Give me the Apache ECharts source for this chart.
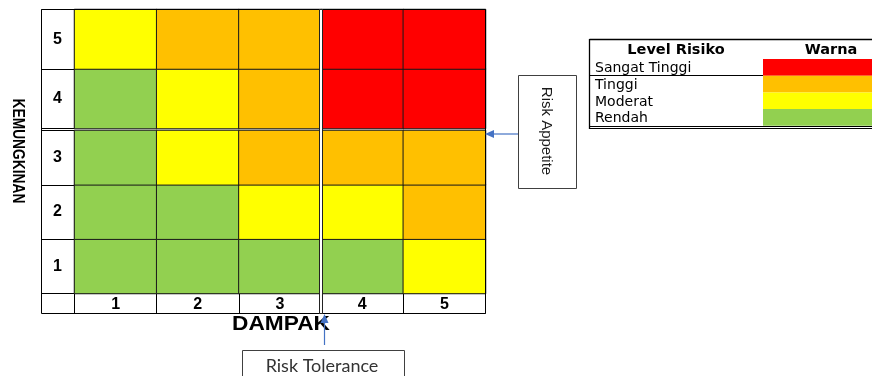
<!DOCTYPE html>
<html>
<head>
<meta charset="utf-8">
<title>Matriks Risiko</title>
<script src="https://cdn.jsdelivr.net/npm/echarts@6/dist/echarts.min.js"></script>
<style>
  html, body { margin: 0; padding: 0; background: #fff; }
  #chart { width: 872px; height: 376px; }
</style>
</head>
<body>
<div id="chart"></div>
<script>
// Axis categories
const impactLabels = ['1', '2', '3', '4', '5'];       // DAMPAK
const likelihoodLabels = ['1', '2', '3', '4', '5'];   // KEMUNGKINAN

// Risk level per cell: rows = likelihood 1..5, columns = impact 1..5
// 0 = Rendah, 1 = Moderat, 2 = Tinggi, 3 = Sangat Tinggi
const riskLevel = [
  [0, 0, 0, 0, 1],
  [0, 0, 1, 1, 2],
  [0, 1, 2, 2, 2],
  [0, 1, 2, 3, 3],
  [1, 2, 2, 3, 3]
];

const levelNames = ['Rendah', 'Moderat', 'Tinggi', 'Sangat Tinggi'];
const levelColors = ['#92D050', '#FFFF00', '#FFC000', '#FF0000'];

// Thresholds: highest likelihood / impact still inside appetite / tolerance
const appetiteLikelihood = 3;
const toleranceImpact = 3;

const upperRows = likelihoodLabels.slice(appetiteLikelihood);
const lowerRows = likelihoodLabels.slice(0, appetiteLikelihood);

function cells(rows) {
  const out = [];
  rows.forEach(function (r) {
    const ri = likelihoodLabels.indexOf(r);
    impactLabels.forEach(function (c, ci) {
      out.push([c, r, riskLevel[ri][ci]]);
    });
  });
  return out;
}

const labelFont = 'Liberation Sans, Arial, sans-serif';
const tableFont = 'DejaVu Sans, sans-serif';

function yAxisFor(gridIndex, rows) {
  return {
    gridIndex: gridIndex,
    type: 'category',
    data: rows,
    axisLine: { show: true, lineStyle: { color: '#000', width: 1 } },
    axisTick: { show: true, interval: 0, length: 33, lineStyle: { color: '#000', width: 1 } },
    axisLabel: {
      interval: 0, align: 'center', margin: 17,
      fontSize: 16, fontWeight: 'bold', color: '#000', fontFamily: labelFont
    },
    splitLine: { show: false }
  };
}

function heatSeries(idx, rows) {
  return {
    type: 'heatmap',
    xAxisIndex: idx,
    yAxisIndex: idx,
    data: cells(rows),
    itemStyle: { borderColor: '#1a1a1a', borderWidth: 1 },
    emphasis: { disabled: true },
    silent: true,
    animation: false
  };
}

const chart = echarts.init(document.getElementById('chart'), null, { renderer: 'canvas' });

const option = {
  backgroundColor: '#fff',
  animation: false,
  grid: [
    { left: 74.5, top: 9.5, width: 411, height: 119 },
    { left: 74.5, top: 130.5, width: 411, height: 163 }
  ],
  xAxis: [
    { gridIndex: 0, type: 'category', data: impactLabels, show: false },
    {
      gridIndex: 1,
      type: 'category',
      data: impactLabels,
      axisLine: { show: true, lineStyle: { color: '#000', width: 1 } },
      axisTick: { show: true, interval: 0, length: 20, lineStyle: { color: '#000', width: 1 } },
      axisLabel: {
        interval: 0, margin: 3,
        fontSize: 16, fontWeight: 'bold', color: '#000', fontFamily: labelFont
      },
      splitLine: { show: false }
    }
  ],
  yAxis: [yAxisFor(0, upperRows), yAxisFor(1, lowerRows)],
  visualMap: {
    type: 'piecewise',
    show: false,
    dimension: 2,
    seriesIndex: [0, 1],
    pieces: levelColors.map(function (col, i) { return { value: i, color: col }; })
  },
  series: [heatSeries(0, upperRows), heatSeries(1, lowerRows)]
};

chart.setOption(option);

// Tolerance boundary between impact columns
const xa = chart.convertToPixel({ xAxisIndex: 1 }, impactLabels[toleranceImpact - 1]);
const xb = chart.convertToPixel({ xAxisIndex: 1 }, impactLabels[toleranceImpact]);
const tolX = Math.round((xa + xb) / 2);

const blue = '#4472C4';
const graphics = [];

// Outer frame of the matrix including label row/column
graphics.push({
  type: 'rect', z: 100,
  shape: { x: 41.5, y: 9.5, width: 444, height: 304 },
  style: { fill: null, stroke: '#000', lineWidth: 1 }
});

// Double line marking the tolerance boundary
graphics.push({
  type: 'rect', z: 101,
  shape: { x: tolX - 1.5, y: 9.5, width: 3, height: 304 },
  style: { fill: '#fff', stroke: '#222', lineWidth: 1 }
});

// Axis titles
graphics.push({
  type: 'text', z: 100, x: 18, y: 151, rotation: -Math.PI / 2,
  scaleX: 0.92, scaleY: 1.15,
  style: {
    text: 'KEMUNGKINAN', font: 'bold 15px ' + labelFont, fill: '#000',
    align: 'center', verticalAlign: 'middle'
  }
});
graphics.push({
  type: 'text', z: 100, x: 281, y: 324, scaleX: 1.08,
  style: {
    text: 'DAMPAK', font: 'bold 21px ' + labelFont, fill: '#000',
    align: 'center', verticalAlign: 'middle'
  }
});

// Risk Appetite callout
graphics.push({
  type: 'rect', z: 100,
  shape: { x: 518.5, y: 75.5, width: 58, height: 113 },
  style: { fill: '#fff', stroke: '#404040', lineWidth: 1 }
});
graphics.push({
  type: 'text', z: 101, x: 546, y: 131, rotation: -Math.PI / 2,
  style: {
    text: 'Risk Appetite', font: '15px ' + labelFont, fill: '#1a1a1a',
    align: 'center', verticalAlign: 'middle'
  }
});
graphics.push({
  type: 'line', z: 100,
  shape: { x1: 518, y1: 134, x2: 492, y2: 134 },
  style: { stroke: blue, lineWidth: 1.2 }
});
graphics.push({
  type: 'polygon', z: 100,
  shape: { points: [[485, 134], [494, 130], [494, 138]] },
  style: { fill: blue }
});

// Risk Tolerance callout
graphics.push({
  type: 'rect', z: 100,
  shape: { x: 242.5, y: 350.5, width: 162, height: 40 },
  style: { fill: '#fff', stroke: '#404040', lineWidth: 1 }
});
graphics.push({
  type: 'text', z: 101, x: 322, y: 366,
  style: {
    text: 'Risk Tolerance', font: '18px Lato, Open Sans, sans-serif', fill: '#333',
    align: 'center', verticalAlign: 'middle'
  }
});
graphics.push({
  type: 'line', z: 100,
  shape: { x1: 324.5, y1: 345, x2: 324.5, y2: 322 },
  style: { stroke: blue, lineWidth: 1.2 }
});
graphics.push({
  type: 'polygon', z: 100,
  shape: { points: [[324.5, 314], [320.5, 323], [328.5, 323]] },
  style: { fill: blue }
});

// Level table (Level Risiko / Warna)
const tblLeft = 589.5, tblRight = 872, swatchLeft = 763, rowTop = 59, rowH = 16.7;
graphics.push({
  type: 'line', z: 100, shape: { x1: tblLeft, y1: 39.5, x2: tblRight, y2: 39.5 },
  style: { stroke: '#000', lineWidth: 1.3 }
});
graphics.push({
  type: 'line', z: 100, shape: { x1: tblLeft, y1: 39, x2: tblLeft, y2: 129 },
  style: { stroke: '#000', lineWidth: 1.3 }
});
graphics.push({
  type: 'text', z: 100, x: 676, y: 50,
  style: { text: 'Level Risiko', font: 'bold 14.5px ' + tableFont, fill: '#000', align: 'center', verticalAlign: 'middle' }
});
graphics.push({
  type: 'text', z: 100, x: 831, y: 50,
  style: { text: 'Warna', font: 'bold 14.5px ' + tableFont, fill: '#000', align: 'center', verticalAlign: 'middle' }
});
const tableOrder = levelNames.map(function (n, i) { return i; }).reverse();
tableOrder.forEach(function (lv, k) {
  const top = rowTop + k * rowH;
  graphics.push({
    type: 'rect', z: 100,
    shape: { x: swatchLeft, y: top, width: tblRight - swatchLeft, height: rowH },
    style: { fill: levelColors[lv] }
  });
  graphics.push({
    type: 'text', z: 100, x: 595, y: top + rowH / 2 + 1.2,
    style: { text: levelNames[lv], font: '14px ' + tableFont, fill: '#000', align: 'left', verticalAlign: 'middle' }
  });
});
graphics.push({
  type: 'line', z: 101, shape: { x1: tblLeft, y1: 75.5, x2: swatchLeft, y2: 75.5 },
  style: { stroke: '#000', lineWidth: 1 }
});
graphics.push({
  type: 'line', z: 101, shape: { x1: tblLeft, y1: 126.5, x2: tblRight, y2: 126.5 },
  style: { stroke: '#000', lineWidth: 1 }
});
graphics.push({
  type: 'line', z: 101, shape: { x1: tblLeft, y1: 128.5, x2: tblRight, y2: 128.5 },
  style: { stroke: '#000', lineWidth: 1 }
});

chart.setOption({ graphic: graphics });
</script>
</body>
</html>
